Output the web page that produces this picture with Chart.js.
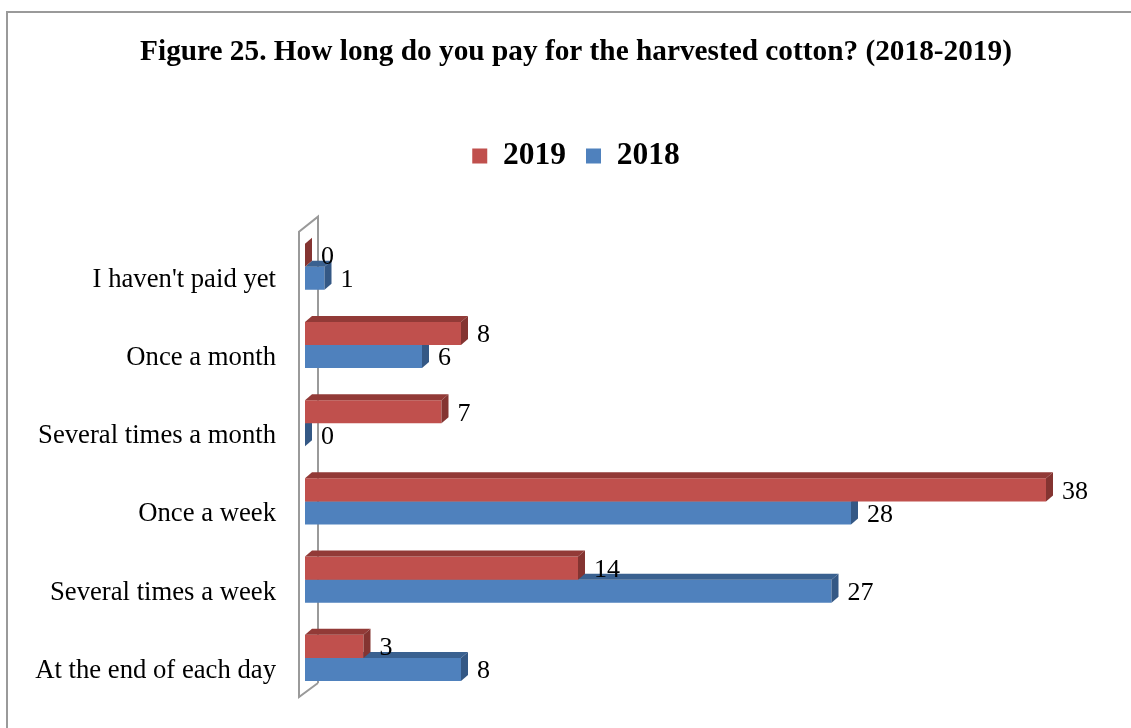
<!DOCTYPE html>
<html>
<head>
<meta charset="utf-8">
<title>Figure 25</title>
<script src="https://cdn.jsdelivr.net/npm/chart.js@4.4.1/dist/chart.umd.min.js"></script>
<style>
	html, body { margin: 0; padding: 0; background: #fff; }
	canvas { display: block; }
</style>
</head>
<body>
<canvas id="chart" width="1131" height="728"></canvas>
<script>
const categories = [
	"I haven't paid yet",
	'Once a month',
	'Several times a month',
	'Once a week',
	'Several times a week',
	'At the end of each day',
];
const values2019 = [0, 8, 7, 38, 14, 3];
const values2018 = [1, 6, 0, 28, 27, 8];

const serif = "'Times New Roman', 'Liberation Serif', serif";

// darker shades for the top and end faces of each bar
const faceColors = [
	{ top: '#923a37', side: '#843431' },
	{ top: '#3a6190', side: '#345885' },
];
const DX = 7;
const DY = 6;

// outer frame around the whole figure
const framePlugin = {
	id: 'frame',
	beforeDraw(chart) {
		const ctx = chart.ctx;
		ctx.save();
		ctx.strokeStyle = '#9a9a9a';
		ctx.lineWidth = 2;
		ctx.beginPath();
		ctx.moveTo(7, chart.height);
		ctx.lineTo(7, 12);
		ctx.lineTo(chart.width, 12);
		ctx.stroke();
		ctx.restore();
	},
};

// slanted back wall behind the bars
const wallPlugin = {
	id: 'wall',
	beforeDatasetsDraw(chart) {
		const { ctx, chartArea } = chart;
		const l = chartArea.left;
		const t = chartArea.top;
		const b = chartArea.bottom;
		ctx.save();
		ctx.strokeStyle = '#9a9a9a';
		ctx.lineWidth = 2;
		ctx.beginPath();
		ctx.moveTo(l + 13, b - 14);
		ctx.lineTo(l + 13, t - 11);
		ctx.lineTo(l - 6, t + 4);
		ctx.lineTo(l - 6, b);
		ctx.lineTo(l + 13, b - 14);
		ctx.stroke();
		ctx.restore();
	},
};

// top and end faces give the bars depth
const depthPlugin = {
	id: 'depth',
	afterDatasetDraw(chart, args) {
		const ctx = chart.ctx;
		const colors = faceColors[args.index];
		ctx.save();
		args.meta.data.forEach((bar) => {
			const { x, y, base, height } = bar.getProps(['x', 'y', 'base', 'height'], true);
			const top = y - height / 2;
			const bottom = y + height / 2;
			ctx.fillStyle = colors.top;
			ctx.beginPath();
			ctx.moveTo(base, top);
			ctx.lineTo(base + DX, top - DY);
			ctx.lineTo(x + DX, top - DY);
			ctx.lineTo(x, top);
			ctx.closePath();
			ctx.fill();
			ctx.fillStyle = colors.side;
			ctx.beginPath();
			ctx.moveTo(x, top);
			ctx.lineTo(x + DX, top - DY);
			ctx.lineTo(x + DX, bottom - DY);
			ctx.lineTo(x, bottom);
			ctx.closePath();
			ctx.fill();
		});
		ctx.restore();
	},
	afterDatasetsDraw(chart) {
		const ctx = chart.ctx;
		ctx.save();
		ctx.fillStyle = '#000';
		ctx.font = '26px ' + serif;
		ctx.textAlign = 'left';
		ctx.textBaseline = 'middle';
		chart.data.datasets.forEach((ds, di) => {
			const meta = chart.getDatasetMeta(di);
			meta.data.forEach((bar, i) => {
				ctx.fillText(String(ds.data[i]), bar.x + DX + 9, bar.y + 2);
			});
		});
		ctx.restore();
	},
};

new Chart(document.getElementById('chart'), {
	type: 'bar',
	data: {
		labels: categories,
		datasets: [
			{
				label: '2019',
				data: values2019,
				backgroundColor: '#c0504d',
			},
			{
				label: '2018',
				data: values2018,
				backgroundColor: '#4f81bd',
			},
		],
	},
	options: {
		indexAxis: 'y',
		responsive: false,
		animation: false,
		categoryPercentage: 0.59,
		barPercentage: 1,
		layout: {
			padding: { left: 28, right: 7, top: 0, bottom: 31 },
		},
		scales: {
			x: {
				position: 'top',
				min: 0,
				max: 42,
				grid: { display: false, drawTicks: false },
				border: { display: false },
				ticks: { display: false },
				afterFit: (scale) => {
					scale.height = 46;
				},
			},
			y: {
				grid: { display: false, drawTicks: false },
				border: { display: false },
				ticks: {
					color: '#000',
					padding: 29,
					labelOffset: 13,
					font: { family: serif, size: 26.7 },
				},
				afterFit: (scale) => {
					scale.width = 277;
					scale.paddingTop = 0;
					scale.paddingBottom = 0;
				},
			},
		},
		plugins: {
			title: {
				display: true,
				text: 'Figure 25. How long do you pay for the harvested cotton? (2018-2019)',
				color: '#000',
				font: { family: serif, size: 29.3, weight: 'bold' },
				padding: { top: 35, bottom: 50 },
			},
			legend: {
				display: true,
				position: 'top',
				labels: {
					color: '#000',
					boxWidth: 15,
					boxHeight: 15,
					padding: 20,
					font: { family: serif, size: 31.5, weight: 'bold' },
				},
			},
			tooltip: { enabled: false },
		},
	},
	plugins: [framePlugin, wallPlugin, depthPlugin],
});
</script>
</body>
</html>
